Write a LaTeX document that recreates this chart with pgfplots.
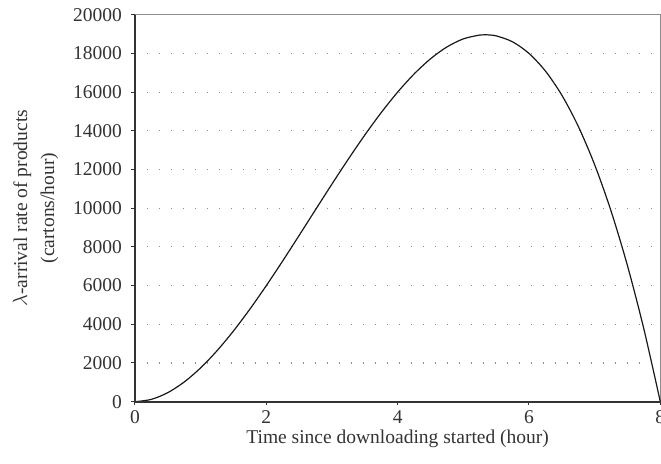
\documentclass[border=0pt]{standalone}
\usepackage{pgfplots}
\pgfplotsset{compat=1.18}
\usepackage{fontspec}
\setmainfont{Liberation Serif}
\definecolor{axdark}{HTML}{333333}
\definecolor{gridgray}{HTML}{8C8C8C}
\begin{document}
\begin{tikzpicture}[x=1bp,y=1bp]
\begin{axis}[
  at={(0,0)}, anchor=south west,
  scale only axis,
  width=525.3bp, height=387bp,
  xmin=0, xmax=8, ymin=0, ymax=20000,
  xtick={0,2,4,6,8},
  ytick={0,2000,4000,6000,8000,10000,12000,14000,16000,18000,20000},
  scaled y ticks=false,
  /pgf/number format/assume math mode=true,
  yticklabel={\pgfmathprintnumber[fixed,1000 sep={}]{\tick}},
  font=\fontsize{19.5bp}{22bp}\selectfont,
  tick label style={font=\fontsize{19.5bp}{22bp}\selectfont, text=axdark},
  label style={font=\fontsize{19.5bp}{22bp}\selectfont, text=axdark},
  axis line style={gridgray, line width=0.6bp},
  tick style={axdark, line width=1bp},
  tick align=outside,
  major tick length=3.5bp,
  xtick pos=bottom, ytick pos=left,
  ymajorgrids,
  major grid style={gridgray, line width=1.1bp, dash pattern=on 1.1bp off 10.9bp},
  xlabel={Time since downloading started (hour)},
  ylabel={$\lambda$-arrival rate of products\\[5bp](cartons/hour)},
  ylabel style={align=center, yshift=8bp},
  xlabel style={yshift=1bp},
  xticklabel style={yshift=-2bp},
  yticklabel style={xshift=-6bp},
  clip=false,
]
\addplot[smooth, line width=1.2bp, black!90] coordinates {
(0,0) (0.25,121.09) (0.5,468.75) (0.75,1019.53) (1,1750) (1.25,2636.72)
(1.5,3656.25) (1.75,4785.16) (2,6000) (2.25,7277.34) (2.5,8593.75)
(2.75,9925.78) (3,11250) (3.25,12542.97) (3.5,13781.25) (3.75,14941.41)
(4,16000) (4.25,16933.59) (4.5,17718.75) (4.75,18332.03) (5,18750)
(5.25,18949.22) (5.333,18963) (5.5,18906.25) (5.75,18597.66) (6,18000)
(6.25,17089.84) (6.5,15843.75) (6.75,14238.28) (7,12250) (7.25,9855.47)
(7.5,7031.25) (7.75,3753.91) (8,0)
};
\draw[axdark, line width=2bp] (rel axis cs:0,1) -- (rel axis cs:0,0) -- (rel axis cs:1,0);
\end{axis}
\pgfresetboundingbox
\path[use as bounding box] (-135bp,-62.3bp) rectangle (526bp,401.7bp);
\end{tikzpicture}
\end{document}
